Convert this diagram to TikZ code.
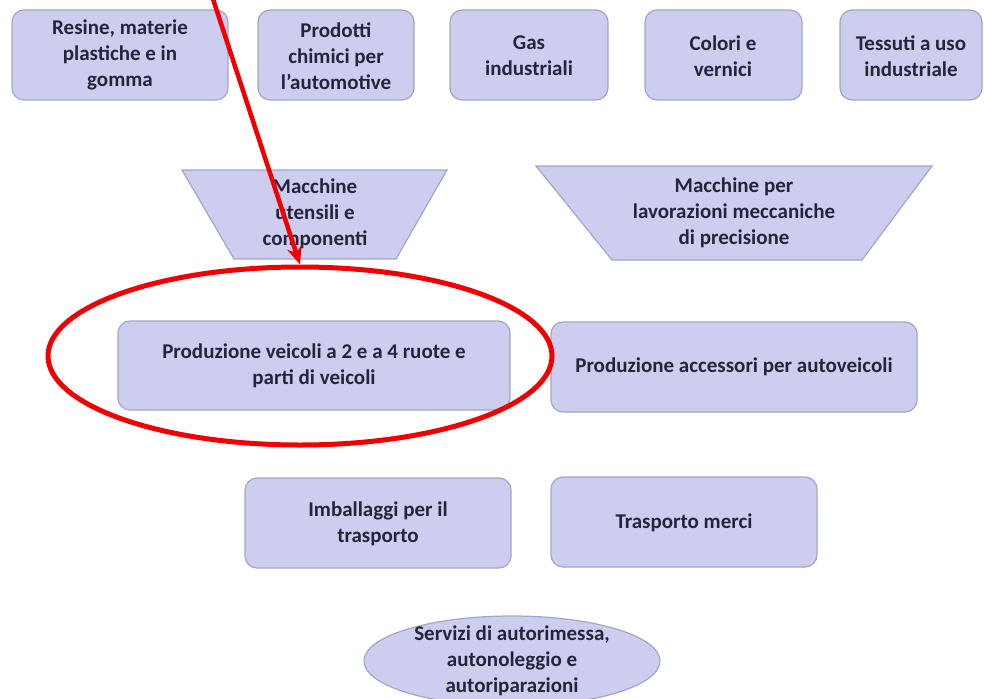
\documentclass[tikz,border=0pt]{standalone}
\usepackage{fontspec}
\setmainfont{Carlito}
\usetikzlibrary{shapes.geometric,arrows.meta}
\definecolor{boxfill}{HTML}{CDCDEF}
\definecolor{boxline}{HTML}{A3A6C4}
\definecolor{txt}{HTML}{24243A}
\definecolor{hired}{HTML}{F00000}
\tikzset{
  box/.style={draw=boxline, line width=1.2pt, fill=boxfill, rounded corners=12pt},
  lbl/.style={align=center, text=txt, font=\fontsize{21}{26}\selectfont\bfseries, inner sep=0pt},
}
\begin{document}
\begin{tikzpicture}[x=1pt,y=-1pt]
\useasboundingbox (0,0) rectangle (984,698);
\fill[white] (0,0) rectangle (984,698);
% top row
\draw[box] (12,10) rectangle (228,100);
\node[lbl] (t1) at (120,55) {Resine, materie\\plastiche e in\\gomma};
\draw[box] (258,10) rectangle (414,100);
\node[lbl] (t2) at (336,56) {Prodotti\\chimici per\\l’automotive};
\draw[box] (450,10) rectangle (608,100);
\node[lbl] (t3) at (529,56) {Gas\\industriali};
\draw[box] (645,10) rectangle (802,100);
\node[lbl] (t4) at (723,56) {Colori e\\vernici};
\draw[box] (840,10) rectangle (982,100);
\node[lbl] (t5) at (911,56) {Tessuti a uso\\industriale};
% trapezoids
\draw[draw=boxline, line width=1.2pt, fill=boxfill] (182,170) -- (447,170) -- (396,259) -- (234,259) -- cycle;
\node[lbl] (m1) at (315,214) {Macchine\\utensili e\\componenti};
\draw[draw=boxline, line width=1.2pt, fill=boxfill] (536,166) -- (932,166) -- (862,260) -- (612,260) -- cycle;
\node[lbl] (m2) at (734,213) {Macchine per\\lavorazioni meccaniche\\di precisione};
% main row
\draw[box] (118,321) rectangle (510,410);
\node[lbl] (p1) at (314,366) {Produzione veicoli a 2 e a 4 ruote e\\parti di veicoli};
\draw[box] (551,322) rectangle (917,412);
\node[lbl] (p2) at (734,367) {Produzione accessori per autoveicoli};
% third row
\draw[box] (245,478) rectangle (511,568);
\node[lbl] (i1) at (378,524) {Imballaggi per il\\trasporto};
\draw[box] (551,477) rectangle (817,567);
\node[lbl] (i2) at (684,523) {Trasporto merci};
% bottom ellipse
\draw[draw=boxline, line width=1.2pt, fill=boxfill] (512,661) ellipse [x radius=148, y radius=45];
\node[lbl] (s) at (512,661) {Servizi di autorimessa,\\autonoleggio e\\autoriparazioni};
% red highlight
\node[draw=hired, line width=5pt, ellipse, minimum width=504, minimum height=178, inner sep=0pt] (hl) at (300,356) {};
\coordinate (as) at (212,-4);
\draw[hired, line width=4.5pt, -{Stealth[length=18pt,width=15pt]}] (as) -- (hl.north);
\end{tikzpicture}
\end{document}
